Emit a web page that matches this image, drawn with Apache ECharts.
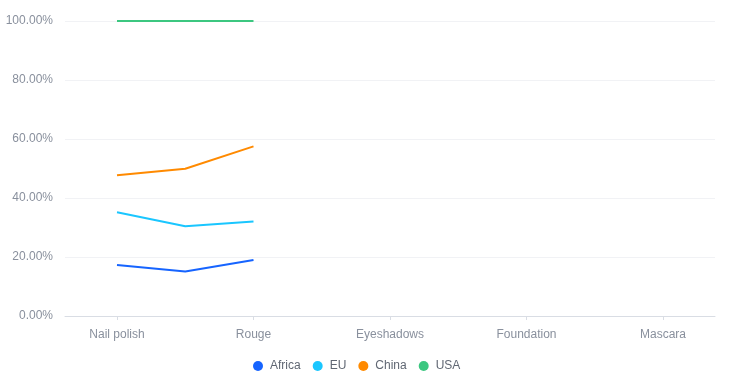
<!DOCTYPE html>
<html>
<head>
<meta charset="utf-8">
<script src="https://cdn.jsdelivr.net/npm/echarts@6/dist/echarts.min.js"></script>
<style>
html,body{margin:0;padding:0;background:#fff;}
#chart{width:746px;height:380px;}
</style>
</head>
<body>
<div id="chart"></div>
<script>
// Categories of the x axis (labels shown on every other one)
var categories = ['Nail polish', 'Eyebrow pencil', 'Rouge', 'Lipstick', 'Eyeshadows', 'Eyeliner', 'Foundation', 'Lip gloss', 'Mascara'];
// Share (%) of each country per category, as far as the lines are drawn in the picture
var africa = [17.3, 15.1, 19.0];
var eu = [17.9, 15.3, 13.0];
var china = [12.5, 19.5, 25.5];
var usa = [52.3, 50.1, 42.5];
var seriesNames = ['Africa', 'EU', 'China', 'USA'];
var seriesValues = [africa, eu, china, usa];
var colors = ['#1664FF', '#1AC6FF', '#FF8A00', '#3CC780'];

var font = "'Liberation Sans', Arial, sans-serif";
var textColor = '#89909d';

var chart = echarts.init(document.getElementById('chart'), null, {renderer: 'canvas'});
chart.setOption({
  animation: false,
  color: colors,
  textStyle: {fontFamily: font},
  grid: [
    {left: 117, right: 83, top: 21, bottom: 64, containLabel: false},
    {left: 65, right: 31, top: 21, bottom: 64, containLabel: false}
  ],
  legend: {
    data: seriesNames,
    left: 248,
    top: 355,
    icon: 'circle',
    itemWidth: 14,
    itemHeight: 10,
    itemGap: 12,
    textStyle: {color: '#606773', fontSize: 12, fontFamily: font}
  },
  xAxis: [
    {
      type: 'category',
      gridIndex: 0,
      data: categories,
      boundaryGap: false,
      axisLine: {show: false},
      axisTick: {show: true, length: 4, interval: 1, lineStyle: {color: '#d9dde4'}},
      splitLine: {show: false},
      axisLabel: {interval: 1, color: textColor, fontSize: 12, fontFamily: font, margin: 13}
    },
    {
      type: 'value',
      gridIndex: 1,
      min: 0,
      max: 1,
      axisLine: {show: true, lineStyle: {color: '#d9dde4', width: 1}},
      axisTick: {show: false},
      axisLabel: {show: false},
      splitLine: {show: false}
    }
  ],
  yAxis: [
    {
      type: 'value',
      gridIndex: 0,
      min: 0,
      max: 100,
      interval: 20,
      show: false
    },
    {
      type: 'value',
      gridIndex: 1,
      min: 0,
      max: 100,
      interval: 20,
      axisLine: {show: false},
      axisTick: {show: false},
      splitLine: {show: true, lineStyle: {color: '#f1f2f5', width: 1}},
      axisLabel: {
        color: textColor,
        fontSize: 12,
        fontFamily: font,
        margin: 12,
        formatter: function (v) { return v.toFixed(2) + '%'; }
      }
    }
  ],
  series: seriesNames.map(function (name, s) {
    return {
      name: name,
      type: 'line',
      xAxisIndex: 0,
      yAxisIndex: 0,
      stack: 'total',
      showSymbol: false,
      symbol: 'circle',
      z: 3,
      lineStyle: {width: 2, color: colors[s]},
      itemStyle: {color: colors[s]},
      data: seriesValues[s]
    };
  })
});
</script>
</body>
</html>
